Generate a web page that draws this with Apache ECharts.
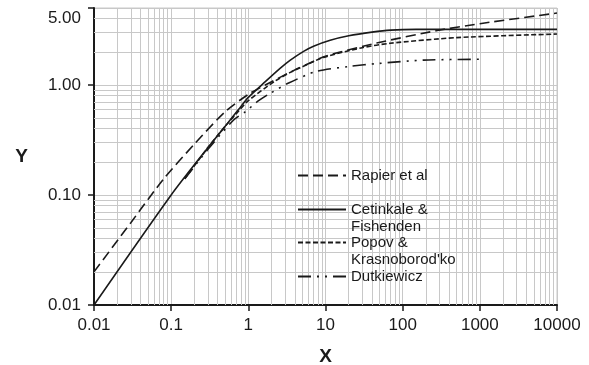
<!DOCTYPE html>
<html>
<head>
<meta charset="utf-8">
<script src="https://cdn.jsdelivr.net/npm/echarts@6/dist/echarts.min.js"></script>
<style>
html, body { margin: 0; padding: 0; background: #fff; }
#main { width: 589px; height: 365px; }
</style>
</head>
<body>
<div id="main"></div>
<script>
// curves, [X, Y]
const rapier = [[0.01, 0.02], [0.03, 0.056], [0.08, 0.14], [0.2, 0.29], [0.5, 0.57], [1, 0.82], [2, 1.07], [4.3, 1.4], [10, 1.82], [46, 2.4], [280, 3.12], [1000, 3.6], [10000, 4.5]];
const cetinkale = [[0.01, 0.01], [0.1, 0.1], [0.3, 0.27], [0.5, 0.42], [0.75, 0.6], [1, 0.77], [1.66, 1.07], [2.6, 1.42], [3.5, 1.68], [5.2, 2.02], [7, 2.25], [11.5, 2.55], [20, 2.8], [40, 3.02], [70, 3.15], [150, 3.2], [10000, 3.2]];
const popov = [[0.15, 0.14], [0.3, 0.27], [0.5, 0.42], [0.75, 0.58], [1, 0.72], [2.2, 1.08], [3.5, 1.3], [6, 1.55], [9.4, 1.78], [30, 2.18], [69, 2.39], [500, 2.69], [10000, 2.9]];
const dutkiewicz = [[0.15, 0.14], [0.3, 0.26], [0.645, 0.48], [0.91, 0.57], [1.36, 0.72], [1.93, 0.84], [3.33, 1.04], [7.7, 1.33], [20, 1.47], [50, 1.57], [186, 1.68], [1060, 1.71]];

const names = ["Rapier et al", "Cetinkale &\nFishenden", "Popov &\nKrasnoborod'ko", "Dutkiewicz"];

// minor grid lines (2..9 in each decade)
const steps = [2, 3, 4, 5, 6, 7, 8, 9];
const xDecades = [0.01, 0.1, 1, 10, 100, 1000];
const yDecades = [0.01, 0.1, 1];
const minorX = [];
xDecades.forEach(d => steps.forEach(s => minorX.push(+(s * d).toPrecision(3))));
const minorY = [];
yDecades.forEach(d => steps.forEach(s => { const v = +(s * d).toPrecision(3); if (v < 5) minorY.push(v); }));

const font = "Liberation Sans, Arial, Helvetica, sans-serif";
const ink = "#1a1a1a";
const gridGray = "#c8c8c8";

var chart = echarts.init(document.getElementById("main"));

function curve(name, data, dash) {
	return {
		name: name,
		type: "line",
		data: data,
		symbol: "none",
		smooth: 0.25,
		silent: true,
		z: 3,
		color: ink,
		lineStyle: { color: ink, width: 1.6, type: dash },
	};
}

const legendTops = [162, 179, 212, 263];
const twoLine = [false, true, true, false];

var option = {
	animation: false,
	backgroundColor: "#fff",
	grid: {
		left: 94,
		right: 32,
		top: 8,
		bottom: 60,
		outerBoundsMode: "none",
		containLabel: false,
		show: true,
		borderColor: gridGray,
		borderWidth: 1,
	},
	legend: names.map((n, i) => ({
		data: [n],
		orient: "vertical",
		left: 292,
		top: legendTops[i],
		itemWidth: 48,
		itemHeight: 14,
		selectedMode: false,
		itemStyle: { color: "rgba(0,0,0,0)", borderWidth: 0, opacity: 0 },
		// blank first line keeps the icon level with the first text line
		formatter: name => (twoLine[i] ? " \n" + name : name),
		textStyle: {
			fontFamily: font,
			fontSize: 15,
			lineHeight: 17,
			color: ink,
		},
	})),
	xAxis: {
		type: "log",
		logBase: 10,
		min: 0.01,
		max: 10000,
		name: "X",
		nameLocation: "middle",
		nameGap: 42,
		nameTextStyle: { fontFamily: font, fontSize: 19, fontWeight: "bold", color: ink },
		axisLine: { show: true, onZero: false, lineStyle: { color: ink, width: 2 } },
		axisTick: { show: true, inside: false, length: 6, lineStyle: { color: ink, width: 1.5 } },
		axisLabel: {
			margin: 12,
			fontFamily: font,
			fontSize: 17,
			color: ink,
			formatter: v => String(+v.toPrecision(6)),
		},
		splitLine: { show: true, lineStyle: { color: gridGray, width: 1 } },
	},
	yAxis: {
		type: "log",
		logBase: 10,
		min: 0.01,
		max: 5,
		name: "Y",
		nameLocation: "middle",
		nameRotate: 0,
		nameGap: 66,
		nameTextStyle: { fontFamily: font, fontSize: 19, fontWeight: "bold", color: ink },
		axisLine: { show: true, onZero: false, lineStyle: { color: ink, width: 2 } },
		axisTick: { show: true, inside: false, length: 6, lineStyle: { color: ink, width: 1.5 } },
		axisLabel: {
			margin: 13,
			fontFamily: font,
			fontSize: 17,
			color: ink,
			formatter: v => {
				const s = (+v.toPrecision(6)).toFixed(2);
				return v > 4 ? "{top|" + s + "}" : s;
			},
			rich: {
				top: { fontFamily: font, fontSize: 17, color: ink, padding: [20, 0, 0, 0] },
			},
		},
		splitLine: { show: true, lineStyle: { color: gridGray, width: 1 } },
	},
	series: [
		{
			name: "minor grid",
			type: "line",
			data: [],
			silent: true,
			markLine: {
				silent: true,
				z: 1,
				animation: false,
				symbol: ["none", "none"],
				label: { show: false },
				lineStyle: { color: gridGray, width: 1, type: "solid" },
				emphasis: { disabled: true },
				data: minorX.map(v => ({ xAxis: v })).concat(minorY.map(v => ({ yAxis: v }))),
			},
		},
		curve(names[0], rapier, [10, 5]),
		curve(names[1], cetinkale, "solid"),
		curve(names[2], popov, [5, 2.5]),
		curve(names[3], dutkiewicz, [13, 6, 2, 6, 2, 6]),
	],
};

chart.setOption(option);
</script>
</body>
</html>
